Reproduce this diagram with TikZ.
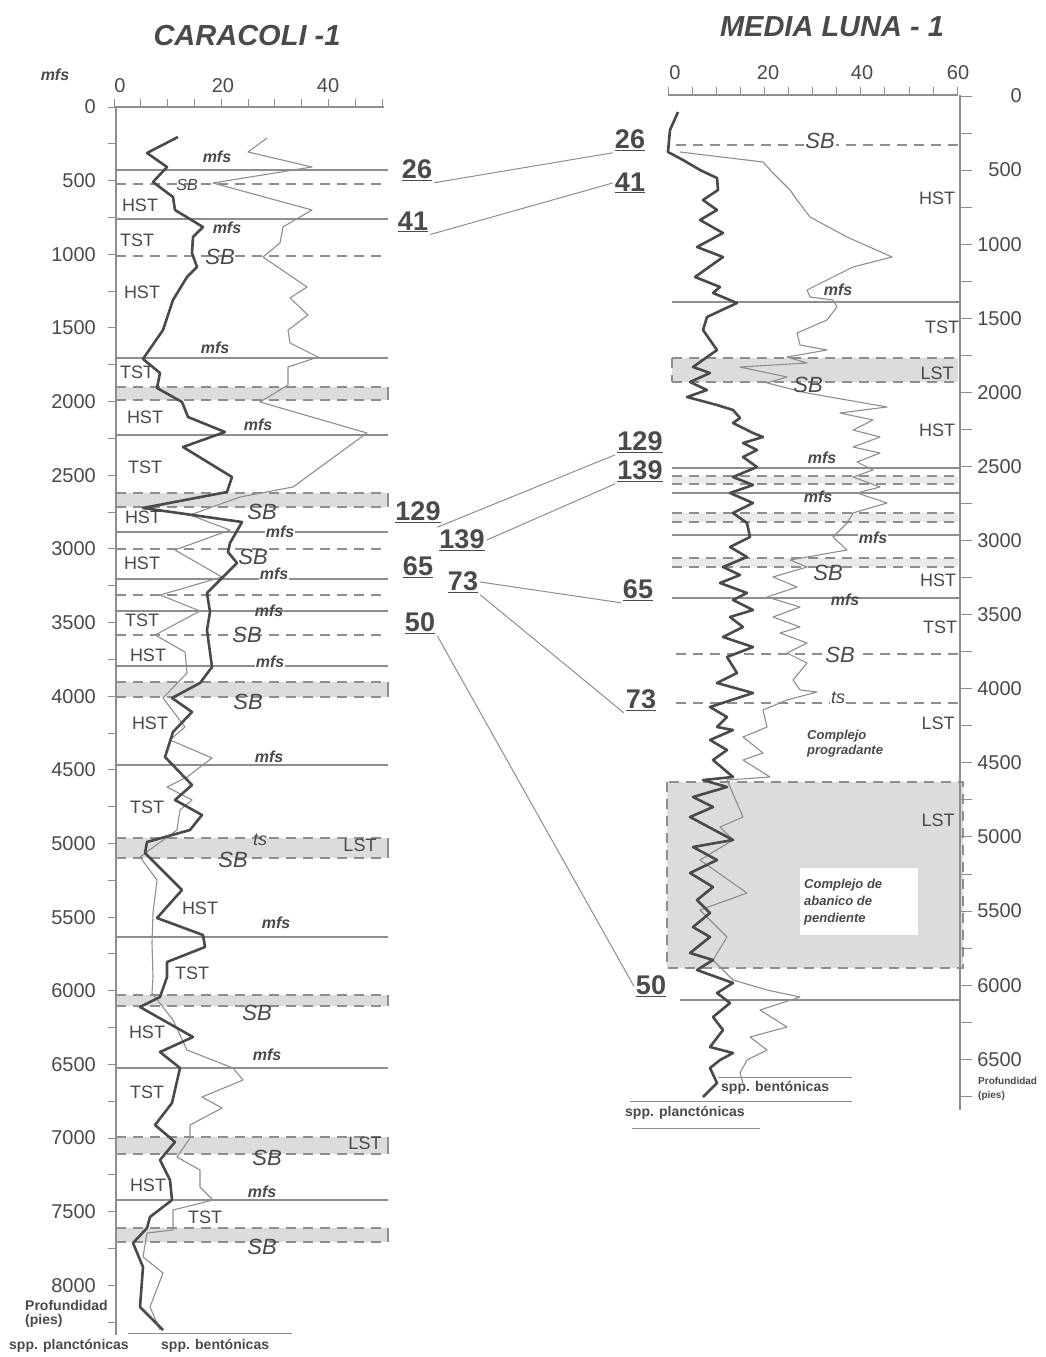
\documentclass[tikz,border=0pt]{standalone}
\usepackage{fontspec}
\setmainfont{Liberation Sans}
\usetikzlibrary{positioning}
\definecolor{logInk}{HTML}{4A4A4A}
\definecolor{logLine}{HTML}{8E8E8E}
\definecolor{logBand}{HTML}{DCDCDC}
\tikzset{
  tract/.style={font=\fontsize{18}{18}\selectfont, text=logInk, inner sep=1pt},
  surf/.style={font=\fontsize{16}{16}\selectfont\bfseries\itshape, text=logInk, inner sep=1pt},
  sblab/.style={font=\fontsize{22}{22}\selectfont\itshape, text=logInk, inner sep=1pt},
  depthlab/.style={font=\fontsize{20}{20}\selectfont, text=logInk, inner sep=1pt},
  corrnum/.style={font=\fontsize{27}{27}\selectfont\bfseries, text=logInk, inner sep=2pt},
  smallbold/.style={font=\fontsize{14}{14}\selectfont\bfseries, text=logInk, inner sep=1pt},
  horizon/.style={draw=logLine, line width=1.1pt},
  sbline/.style={horizon, dash pattern=on 10pt off 7pt},
  corrline/.style={draw=logLine, line width=1pt},
  plank/.style={draw=logInk, line width=2.6pt, line join=round},
  benth/.style={draw=logLine, line width=1.1pt, line join=round},
  gap/.style={fill=white}
}

\begin{document}
\begin{tikzpicture}[x=1pt,y=-1pt]
\fill[white] (0,0) rectangle (1046,1357);
\useasboundingbox (0,0) rectangle (1046,1357);

% titles
\node[font=\fontsize{29}{29}\selectfont\bfseries\itshape, text=logInk] (carTitle) at (247,36) {CARACOLI -1};
\node[font=\fontsize{29}{29}\selectfont\bfseries\itshape, text=logInk] (mlTitle) at (832,27) {MEDIA LUNA - 1};

%%% CARACOLI-1
\foreach \a/\b in {387/400, 493/507, 682/697, 838/858, 995/1006, 1137/1154, 1228/1242} {
  \fill[logBand] (116,\a) rectangle (388,\b);
  \draw[sbline] (116,\a) -- (388,\a) (116,\b) -- (388,\b);
  \draw[horizon] (388,\a) -- (388,\b);
}
\foreach \y in {170,219,358,435,532,579,611,666,765,937,1068,1200}
  \draw[horizon] (116,\y) -- (388,\y);
\foreach \y in {184,256,549,595,635}
  \draw[sbline] (116,\y) -- (388,\y);

% axes
\draw[logLine, line width=1.2pt] (114,107) -- (384,107);
\foreach \k in {0,...,10}
  \draw[logLine, line width=1pt] ({114+26.8*\k},107) -- ++(0,-8);
\foreach \v/\x in {0/120, 20/223, 40/328}
  \node[depthlab] at (\x,86) {\v};
\draw[logLine, line width=1.2pt] (116,107) -- (116,1335);
\foreach \d in {0,250,...,8250}
  \draw[logLine, line width=1pt] (116,{107+0.1473*\d}) -- ++(-8,0);
\foreach \d in {0,500,...,8000}
  \node[depthlab, anchor=east] at (97,{107+0.1473*\d}) {\d};
\node[surf] at (55,75) {mfs};

% curves
\draw[benth] plot coordinates {(267,138) (248,152) (312,167) (213,183) (312,210) (283,227) (280,243) (263,257) (307,287) (290,298) (308,315) (288,330) (290,343) (318,357) (288,367) (288,385) (260,402) (367,433) (293,487) (240,497) (190,515) (230,530) (175,550) (222,577) (160,595) (200,611) (155,635) (185,652) (187,673) (163,698) (185,727) (170,740) (212,758) (187,777) (167,787) (192,800) (180,810) (177,830) (140,857) (157,880) (153,913) (152,943) (153,977) (152,993) (173,1020) (187,1050) (233,1068) (243,1080) (202,1097) (222,1108) (190,1125) (190,1138) (177,1157) (200,1170) (200,1187) (213,1200) (173,1210) (173,1230) (147,1233) (143,1257) (163,1273) (150,1307) (160,1330)};
\draw[plank] plot coordinates {(178,137) (147,153) (167,167) (153,182) (173,197) (175,210) (203,227) (193,237) (192,253) (197,267) (187,277) (173,300) (163,330) (143,359) (160,373) (157,388) (182,402) (188,417) (225,432) (183,447) (232,477) (227,492) (143,508) (242,522) (230,543) (228,552) (237,563) (220,580) (207,593) (210,612) (207,630) (212,667) (200,683) (172,698) (192,712) (173,732) (165,757) (192,785) (175,800) (202,815) (190,830) (147,842) (145,853) (182,890) (157,918) (203,935) (205,947) (167,962) (167,977) (160,997) (140,1007) (193,1037) (160,1052) (180,1068) (172,1103) (155,1125) (175,1142) (160,1160) (170,1180) (172,1200) (150,1217) (147,1228) (133,1243) (143,1267) (140,1307) (163,1330)};

% surfaces
\foreach \x/\y in {217/157, 227/228, 215/348, 258/425, 269/611, 269/757, 276/923, 267/1055, 262/1192}
  \node[surf] at (\x,\y) {mfs};
\foreach \x/\y in {280/532, 274/574, 270/662}
  \node[surf, gap] at (\x,\y) {mfs};
\node[sblab, font=\fontsize{16}{16}\selectfont\itshape] at (187,185) {SB};
\foreach \x/\y in {220/257, 262/512, 253/557, 247/635, 248/702, 233/860, 257/1013, 267/1158, 262/1247}
  \node[sblab] at (\x,\y) {SB};
\node[surf, font=\fontsize{18}{18}\selectfont\itshape] at (260,840) {ts};
\node[tract] at (360,845) {LST};
\node[tract] at (365,1143) {LST};
\foreach \x/\y/\lab in {140/205/HST, 137/240/TST, 142/292/HST, 137/372/TST, 145/417/HST, 145/467/TST, 143/517/HST, 142/563/HST, 142/620/TST, 148/655/HST, 150/723/HST, 147/807/TST, 200/908/HST, 192/973/TST, 147/1032/HST, 147/1092/TST, 148/1185/HST, 205/1217/TST}
  \node[tract] at (\x,\y) {\lab};

\draw[logLine, line width=1pt] (128,1333) -- (292,1333);
\node[smallbold, anchor=west] at (24,1305) {Profundidad};
\node[smallbold, anchor=west] at (24,1321) {(pies)};
\node[smallbold, anchor=west] at (8,1346) {spp. planctónicas};
\node[smallbold, anchor=west] at (160,1346) {spp. bentónicas};

%%% MEDIA LUNA-1
\fill[logBand] (667,782) rectangle (963,968);
\fill[white] (800,868) rectangle (918,935);
\draw[sbline] (667,782) rectangle (963,968);
\fill[logBand] (672,358) rectangle (958,382);
\draw[sbline] (672,358) -- (958,358) (672,382) -- (958,382) (672,358) -- (672,382);
\foreach \a/\b in {476/484, 513/522, 558/567} {
  \fill[logBand!60] (672,\a) rectangle (958,\b);
  \draw[sbline] (672,\a) -- (958,\a) (672,\b) -- (958,\b);
}
\foreach \y in {302,468,493,535,598}
  \draw[horizon] (672,\y) -- (960,\y);
\draw[horizon] (680,1000) -- (960,1000);
\foreach \y in {145,654,703}
  \draw[sbline] (676,\y) -- (958,\y);

% axes
\draw[logLine, line width=1.2pt] (668,95) -- (958,95);
\foreach \k in {0,...,12}
  \draw[logLine, line width=1pt] ({668+24.1*\k},95) -- ++(0,-8);
\foreach \v/\x in {0/675, 20/768, 40/862, 60/958}
  \node[depthlab] at (\x,73) {\v};
\draw[logLine, line width=1.2pt] (960,95) -- (960,1110);
\foreach \d in {0,250,...,6750}
  \draw[logLine, line width=1pt] (960,{96+0.1482*\d}) -- ++(12,0);
\foreach \d in {0,500,...,6500}
  \node[depthlab, anchor=east] at (1023,{96+0.1482*\d}) {\d};
\node[smallbold, font=\fontsize{10}{10}\selectfont\bfseries, anchor=west] at (977,1081) {Profundidad};
\node[smallbold, font=\fontsize{10}{10}\selectfont\bfseries, anchor=west] at (977,1096) {(pies)};

% curves
\draw[benth] plot coordinates {(680,152) (763,162) (773,173) (790,190) (797,200) (810,217) (847,237) (892,257) (853,267) (833,277) (807,290) (810,297) (833,300) (837,307) (827,320) (797,333) (800,345) (827,350) (787,357) (807,363) (740,367) (787,377) (767,383) (807,393) (847,400) (887,407) (840,413) (873,420) (853,430) (880,437) (853,447) (880,453) (857,462) (873,470) (853,477) (880,487) (857,493) (887,503) (853,513) (847,523) (833,537) (847,550) (790,560) (807,567) (773,577) (797,587) (767,597) (800,607) (773,617) (800,627) (780,633) (807,643) (787,653) (807,663) (793,680) (800,690) (817,692) (787,700) (763,710) (767,727) (743,737) (763,753) (743,760) (770,777) (727,780) (743,817) (720,827) (733,840) (700,860) (747,893) (700,910) (727,937) (713,960) (733,980) (767,990) (800,997) (760,1010) (787,1027) (750,1037) (767,1050) (747,1060) (740,1073) (743,1083)};
\draw[plank] plot coordinates {(678,112) (670,130) (668,152) (683,160) (700,170) (717,178) (718,190) (703,200) (717,210) (700,220) (723,233) (697,247) (723,257) (695,277) (720,287) (713,293) (737,303) (707,317) (703,330) (717,350) (693,367) (710,373) (690,382) (707,390) (687,397) (717,405) (733,410) (740,418) (733,423) (753,433) (763,437) (743,443) (757,450) (743,457) (757,467) (733,477) (753,485) (730,493) (753,503) (733,513) (747,523) (750,537) (730,547) (747,557) (723,567) (740,575) (720,583) (747,593) (733,600) (753,610) (730,617) (743,627) (723,637) (753,647) (727,657) (737,673) (717,683) (753,693) (710,707) (727,717) (717,727) (733,730) (710,740) (727,750) (713,760) (733,777) (703,780) (727,787) (693,797) (713,807) (690,817) (733,840) (693,847) (717,860) (690,873) (713,887) (697,900) (710,913) (693,927) (710,937) (690,953) (713,960) (697,970) (733,983) (717,993) (730,1003) (713,1017) (723,1030) (710,1047) (733,1053) (720,1060) (710,1068) (717,1083) (703,1097)};

% surfaces
\node[sblab, gap] at (820,141) {SB};
\node[sblab] at (808,385) {SB};
\node[sblab] at (828,573) {SB};
\node[sblab, gap] at (840,655) {SB};
\node[surf, font=\fontsize{18}{18}\selectfont\itshape, gap] at (838,698) {ts};
\foreach \x/\y in {838/290, 822/458, 818/497, 845/600}
  \node[surf] at (\x,\y) {mfs};
\node[surf, gap] at (873,538) {mfs};
\foreach \x/\y/\lab in {937/198/HST, 942/327/TST, 937/373/LST, 937/430/HST, 938/580/HST, 940/627/TST, 938/723/LST, 938/820/LST}
  \node[tract] at (\x,\y) {\lab};
\node[surf, font=\fontsize{13}{15}\selectfont\bfseries\itshape, align=left, anchor=west] at (806,744) {Complejo\\progradante};
\node[surf, font=\fontsize{13}{17}\selectfont\bfseries\itshape, align=left, anchor=west] at (803,902) {Complejo de\\abanico de\\pendiente};

\draw[logLine, line width=1pt] (718,1077) -- (852,1077) (630,1101) -- (852,1101) (632,1128) -- (760,1128);
\node[smallbold, anchor=west] at (720,1088) {spp. bentónicas};
\node[smallbold, anchor=west] at (624,1113) {spp. planctónicas};

%%% correlation
\node[corrnum] (L26) at (417,170) {\underline{26}};
\node[corrnum] (L41) at (413,222) {\underline{41}};
\node[corrnum] (L129) at (418,512) {\underline{129}};
\node[corrnum] (L139) at (462,540) {\underline{139}};
\node[corrnum] (L65) at (418,567) {\underline{65}};
\node[corrnum] (L73) at (463,582) {\underline{73}};
\node[corrnum] (L50) at (420,623) {\underline{50}};
\node[corrnum] (R26) at (630,140) {\underline{26}};
\node[corrnum] (R41) at (630,183) {\underline{41}};
\node[corrnum] (R129) at (640,442) {\underline{129}};
\node[corrnum] (R139) at (640,471) {\underline{139}};
\node[corrnum] (R65) at (638,590) {\underline{65}};
\node[corrnum] (R73) at (641,700) {\underline{73}};
\node[corrnum] (R50) at (651,986) {\underline{50}};

\draw[corrline] (L26.south east) -- (R26.south west);
\draw[corrline] (L41.south east) -- (R41.west);
\draw[corrline] (L139.north west) -- (R129.south west);
\draw[corrline] (L139.east) -- (R139.south west);
\draw[corrline] (L73.east) -- (R65.south west);
\draw[corrline] (L73.south east) -- (R73.south west);
\draw[corrline] (L50.south east) -- (R50.west);
\end{tikzpicture}
\end{document}
